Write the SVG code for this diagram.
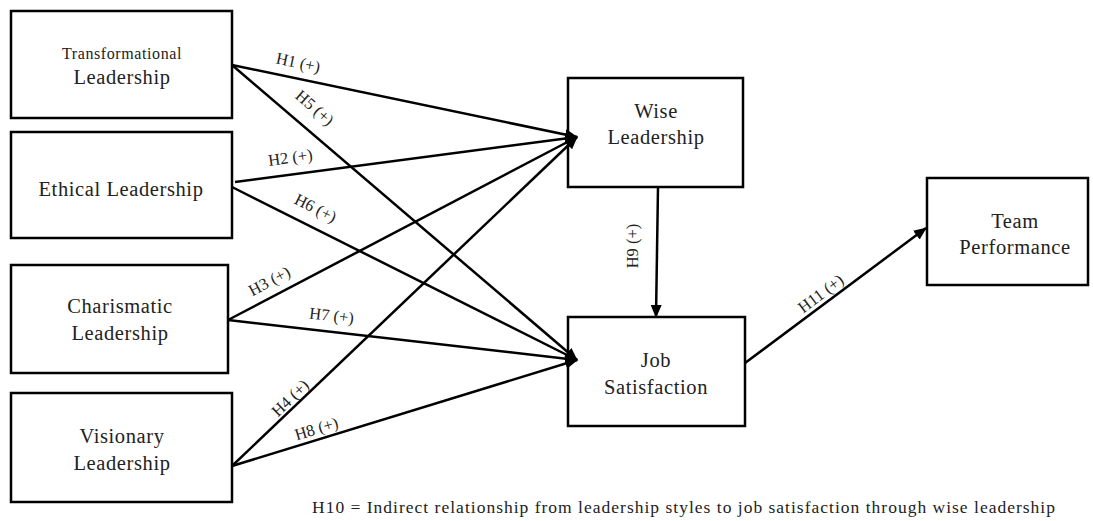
<svg xmlns="http://www.w3.org/2000/svg" width="1093" height="521" viewBox="0 0 1093 521">
<style>
.box{fill:#fff;stroke:#000;stroke-width:2.5}
.t{font-size:20.5px;letter-spacing:0.6px;fill:#222;text-anchor:middle}
.l{font-size:16.5px;fill:#222;text-anchor:middle}
.c{stroke:#000;stroke-width:2.5;fill:none;marker-end:url(#ah)}
</style>
<defs>
<marker id="ah" markerWidth="13" markerHeight="11" refX="12" refY="5.5" orient="auto" markerUnits="userSpaceOnUse">
<path d="M0,0 L13,5.5 L0,11 Z" fill="#000"/>
</marker>
</defs>
<rect width="1093" height="521" fill="#fff"/>
<g font-family="Liberation Serif, Times New Roman, serif">
<g id="n-transformational">
<rect class="box" x="11" y="11" width="221" height="107"/>
<text class="t" x="122" y="59" style="font-size:16px;letter-spacing:0.6px">Transformational</text>
<text class="t" x="122" y="84">Leadership</text>
</g>
<g id="n-ethical">
<rect class="box" x="11" y="132" width="221" height="106"/>
<text class="t" x="121" y="196">Ethical Leadership</text>
</g>
<g id="n-charismatic">
<rect class="box" x="11" y="265" width="217" height="108"/>
<text class="t" x="120" y="313">Charismatic</text>
<text class="t" x="120" y="340">Leadership</text>
</g>
<g id="n-visionary">
<rect class="box" x="11" y="393" width="221" height="109"/>
<text class="t" x="122" y="443">Visionary</text>
<text class="t" x="122" y="470">Leadership</text>
</g>
<g id="n-wise">
<rect class="box" x="568" y="78" width="175" height="109"/>
<text class="t" x="656" y="118">Wise</text>
<text class="t" x="656" y="144">Leadership</text>
</g>
<g id="n-job">
<rect class="box" x="568" y="317" width="177" height="109"/>
<text class="t" x="656" y="367">Job</text>
<text class="t" x="656" y="394">Satisfaction</text>
</g>
<g id="n-team">
<rect class="box" x="927" y="178" width="161" height="107"/>
<text class="t" x="1015" y="228">Team</text>
<text class="t" x="1015" y="254">Performance</text>
</g>
<g id="connectors">
<line class="c" x1="232" y1="65" x2="577" y2="137"/>
<line class="c" x1="232" y1="65" x2="577" y2="360"/>
<line class="c" x1="235" y1="182" x2="577" y2="137"/>
<line class="c" x1="232" y1="187" x2="577" y2="360"/>
<line class="c" x1="228" y1="320" x2="577" y2="137"/>
<line class="c" x1="228" y1="320" x2="577" y2="360"/>
<line class="c" x1="232" y1="466" x2="577" y2="137"/>
<line class="c" x1="232" y1="466" x2="577" y2="360"/>
<line class="c" x1="658" y1="187" x2="656" y2="317"/>
<line class="c" x1="745" y1="363" x2="926" y2="228"/>
<text class="l" transform="translate(297,68) rotate(12)">H1 (+)</text>
<text class="l" transform="translate(311,112) rotate(41)">H5 (+)</text>
<text class="l" transform="translate(291,163) rotate(-7.6)">H2 (+)</text>
<text class="l" transform="translate(313,213) rotate(27)">H6 (+)</text>
<text class="l" transform="translate(272,286) rotate(-28)">H3 (+)</text>
<text class="l" transform="translate(331,321) rotate(6.6)">H7 (+)</text>
<text class="l" transform="translate(294,402) rotate(-44)">H4 (+)</text>
<text class="l" transform="translate(318,434) rotate(-17)">H8 (+)</text>
<text class="l" transform="translate(638,246) rotate(-90)">H9 (+)</text>
<text class="l" transform="translate(824,298) rotate(-37)">H11 (+)</text>
</g>
<g id="note">
<text x="312" y="513" textLength="743" lengthAdjust="spacing" font-size="17.5" fill="#222">H10 = Indirect relationship from leadership styles to job satisfaction through wise leadership</text>
</g>
</g>
</svg>
